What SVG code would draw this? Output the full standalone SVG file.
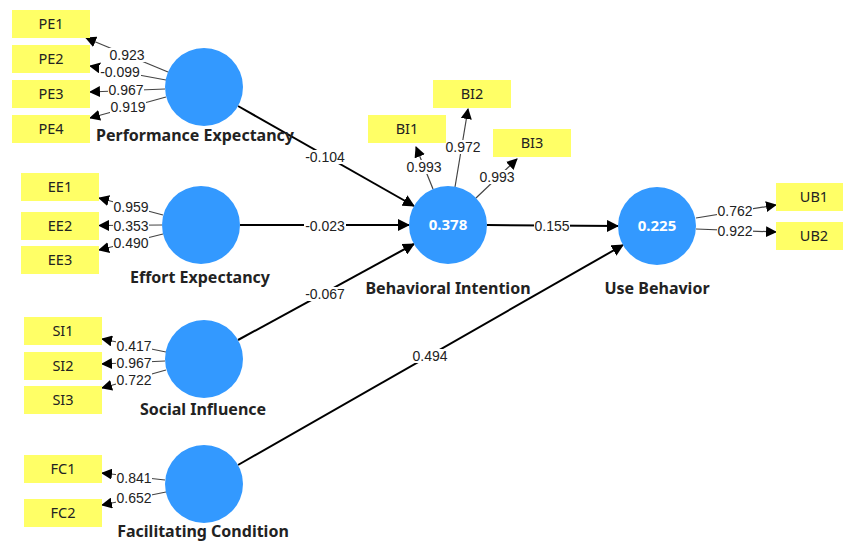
<svg xmlns="http://www.w3.org/2000/svg" width="843" height="544" viewBox="0 0 843 544">
<defs>
<marker id="ah" markerUnits="userSpaceOnUse" markerWidth="12" markerHeight="12" refX="11" refY="6" orient="auto"><path d="M0,0 L12,6 L0,12 Z" fill="#000"/></marker>
<marker id="as" markerUnits="userSpaceOnUse" markerWidth="11" markerHeight="11" refX="10" refY="5.5" orient="auto"><path d="M0,0 L11,5.5 L0,11 Z" fill="#000"/></marker>
<style>
.box{fill:#ffff66}
.bt{font-family:"Noto Sans","Open Sans","Liberation Sans",sans-serif;font-size:14.5px;fill:#222;text-anchor:middle}
.lat{fill:#3399ff}
.ln{font-family:"Noto Sans","Open Sans","Liberation Sans",sans-serif;font-size:16px;font-weight:bold;fill:#222;text-anchor:middle}
.r2{font-family:"Noto Sans","Open Sans","Liberation Sans",sans-serif;font-size:15px;font-weight:bold;fill:#fff;text-anchor:middle}
.ld{stroke:#444;stroke-width:1.2;fill:none;marker-end:url(#as)}
.pth{stroke:#000;stroke-width:2;fill:none;marker-end:url(#ah)}
.bg{fill:#fff}
.lb{font-family:"Liberation Sans",Arial,sans-serif;font-size:14px;fill:#222;text-anchor:middle}
</style>
</defs>
<rect width="843" height="544" fill="#fff"/>
<g id="connectors">
<line class="ld" x1="168" y1="72" x2="86" y2="38"/>
<line class="ld" x1="166" y1="80" x2="90" y2="66"/>
<line class="ld" x1="165" y1="89" x2="90" y2="92"/>
<line class="ld" x1="166" y1="97" x2="90" y2="118"/>
<line class="ld" x1="163" y1="215" x2="99" y2="198"/>
<line class="ld" x1="162" y1="225" x2="99" y2="225.5"/>
<line class="ld" x1="163" y1="234" x2="99" y2="250"/>
<line class="ld" x1="166" y1="352" x2="102" y2="339"/>
<line class="ld" x1="165" y1="361" x2="102" y2="364"/>
<line class="ld" x1="166" y1="370" x2="102" y2="388"/>
<line class="ld" x1="165" y1="480" x2="102" y2="473"/>
<line class="ld" x1="166" y1="492" x2="102" y2="505"/>
<line class="ld" x1="433" y1="189" x2="416" y2="147"/>
<line class="ld" x1="455" y1="187" x2="468" y2="109"/>
<line class="ld" x1="476" y1="198" x2="517" y2="159"/>
<line class="ld" x1="696" y1="218" x2="776" y2="205"/>
<line class="ld" x1="696" y1="229" x2="776" y2="232"/>
<line class="pth" x1="238" y1="106" x2="414" y2="206"/>
<line class="pth" x1="240" y1="225" x2="409" y2="225"/>
<line class="pth" x1="238" y1="340" x2="414" y2="244"/>
<line class="pth" x1="487" y1="225" x2="618" y2="226"/>
<line class="pth" x1="238" y1="465" x2="623" y2="245"/>
<rect class="bg" x="109" y="48" width="36" height="14"/><text class="lb" x="127" y="60">0.923</text>
<rect class="bg" x="99" y="65" width="42" height="14"/><text class="lb" x="120" y="77">-0.099</text>
<rect class="bg" x="108" y="83" width="36" height="14"/><text class="lb" x="126" y="95">0.967</text>
<rect class="bg" x="110" y="100" width="36" height="14"/><text class="lb" x="128" y="112">0.919</text>
<rect class="bg" x="113" y="200" width="36" height="14"/><text class="lb" x="131" y="212">0.959</text>
<rect class="bg" x="113" y="219" width="36" height="14"/><text class="lb" x="131" y="231">0.353</text>
<rect class="bg" x="113" y="236" width="36" height="14"/><text class="lb" x="131" y="248">0.490</text>
<rect class="bg" x="116" y="339" width="36" height="14"/><text class="lb" x="134" y="351">0.417</text>
<rect class="bg" x="116" y="356" width="36" height="14"/><text class="lb" x="134" y="368">0.967</text>
<rect class="bg" x="116" y="373" width="36" height="14"/><text class="lb" x="134" y="385">0.722</text>
<rect class="bg" x="116" y="471" width="36" height="14"/><text class="lb" x="134" y="483">0.841</text>
<rect class="bg" x="116" y="491" width="36" height="14"/><text class="lb" x="134" y="503">0.652</text>
<rect class="bg" x="406" y="160" width="36" height="14"/><text class="lb" x="424" y="172">0.993</text>
<rect class="bg" x="445" y="140" width="36" height="14"/><text class="lb" x="463" y="152">0.972</text>
<rect class="bg" x="479" y="170" width="36" height="14"/><text class="lb" x="497" y="182">0.993</text>
<rect class="bg" x="717" y="204" width="36" height="14"/><text class="lb" x="735" y="216">0.762</text>
<rect class="bg" x="717" y="224" width="36" height="14"/><text class="lb" x="735" y="236">0.922</text>
<rect class="bg" x="304" y="150" width="42" height="14"/><text class="lb" x="325" y="162">-0.104</text>
<rect class="bg" x="304" y="219" width="42" height="14"/><text class="lb" x="325" y="231">-0.023</text>
<rect class="bg" x="304" y="287" width="42" height="14"/><text class="lb" x="325" y="299">-0.067</text>
<rect class="bg" x="534" y="219" width="36" height="14"/><text class="lb" x="552" y="231">0.155</text>
<rect class="bg" x="412" y="349" width="36" height="14"/><text class="lb" x="430" y="361">0.494</text>
</g>
<g id="PE"><circle class="lat" cx="204" cy="87" r="39"/><text class="ln" x="195" y="141">Performance Expectancy</text></g>
<g id="EE"><circle class="lat" cx="201" cy="225" r="39"/><text class="ln" x="200" y="283">Effort Expectancy</text></g>
<g id="SI"><circle class="lat" cx="204" cy="359" r="39"/><text class="ln" x="203" y="415">Social Influence</text></g>
<g id="FC"><circle class="lat" cx="204" cy="484" r="39"/><text class="ln" x="203" y="537">Facilitating Condition</text></g>
<g id="BI"><circle class="lat" cx="448" cy="225" r="39"/><text class="r2" x="448" y="230">0.378</text><text class="ln" x="448" y="294">Behavioral Intention</text></g>
<g id="UB"><circle class="lat" cx="657" cy="226" r="39"/><text class="r2" x="657" y="231">0.225</text><text class="ln" x="657" y="294">Use Behavior</text></g>
<g id="PE1"><rect class="box" x="12" y="10" width="78" height="28"/><text class="bt" x="51" y="29">PE1</text></g>
<g id="PE2"><rect class="box" x="12" y="45" width="78" height="28"/><text class="bt" x="51" y="64">PE2</text></g>
<g id="PE3"><rect class="box" x="12" y="80" width="78" height="28"/><text class="bt" x="51" y="99">PE3</text></g>
<g id="PE4"><rect class="box" x="12" y="115" width="78" height="28"/><text class="bt" x="51" y="134">PE4</text></g>
<g id="EE1"><rect class="box" x="21" y="173" width="78" height="28"/><text class="bt" x="60" y="192">EE1</text></g>
<g id="EE2"><rect class="box" x="21" y="212" width="78" height="28"/><text class="bt" x="60" y="231">EE2</text></g>
<g id="EE3"><rect class="box" x="21" y="246" width="78" height="28"/><text class="bt" x="60" y="265">EE3</text></g>
<g id="SI1"><rect class="box" x="24" y="317" width="78" height="28"/><text class="bt" x="63" y="336">SI1</text></g>
<g id="SI2"><rect class="box" x="24" y="352" width="78" height="28"/><text class="bt" x="63" y="371">SI2</text></g>
<g id="SI3"><rect class="box" x="24" y="386" width="78" height="28"/><text class="bt" x="63" y="405">SI3</text></g>
<g id="FC1"><rect class="box" x="24" y="455" width="78" height="28"/><text class="bt" x="63" y="474">FC1</text></g>
<g id="FC2"><rect class="box" x="24" y="499" width="78" height="28"/><text class="bt" x="63" y="518">FC2</text></g>
<g id="BI1"><rect class="box" x="368" y="115" width="78" height="28"/><text class="bt" x="407" y="134">BI1</text></g>
<g id="BI2"><rect class="box" x="433" y="80" width="78" height="28"/><text class="bt" x="472" y="99">BI2</text></g>
<g id="BI3"><rect class="box" x="493" y="129" width="78" height="28"/><text class="bt" x="532" y="148">BI3</text></g>
<g id="UB1"><rect class="box" x="776" y="183" width="67" height="28"/><text class="bt" x="814" y="202">UB1</text></g>
<g id="UB2"><rect class="box" x="776" y="222" width="67" height="28"/><text class="bt" x="814" y="241">UB2</text></g>
</svg>
